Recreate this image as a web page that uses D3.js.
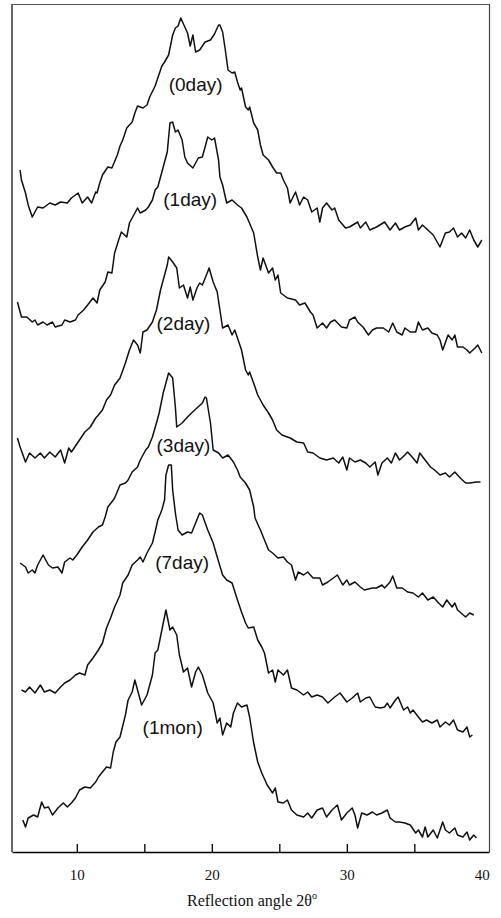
<!DOCTYPE html>
<html>
<head>
<meta charset="utf-8">
<script src="https://cdn.jsdelivr.net/npm/d3@7"></script>
<style>
  body { margin: 0; background: white; }
</style>
</head>
<body>
<script>
let width = 501;
let height = 918;

// sample names, stacking offsets and where each name sits (2theta, height above its curve's offset)
let samples = ["(0day)", "(1day)", "(2day)", "(3day)", "(7day)", "(1mon)"];
let offsets = [600, 480, 350, 230, 110, 0];
let labelAngle = [18.8, 18.4, 17.9, 17.9, 17.8, 17.1];
let labelLevel = [168, 173, 179, 177, 180, 125];

let minorTicks = [10, 15, 20, 25, 30, 35];
let tickLabels = [10, 20, 30, 40];

// patterns: [2theta, intensity (a.u.)]
let day0 = [[5.8,82],[5.9,72],[6.2,59],[6.4,47],[6.7,35],[7.1,45],[7.5,44],[8.0,49],[8.4,47],[8.8,50],[9.3,49],[9.6,54],[10.1,59],[10.4,49],[10.8,55],[11.1,49],[11.4,60],[11.5,59],[11.7,69],[11.9,77],[12.3,85],[12.6,84],[13.0,97],[13.2,106],[13.4,112],[13.7,124],[14.1,130],[14.3,139],[14.5,146],[14.9,144],[15.2,147],[15.4,155],[15.8,166],[16.0,174],[16.3,186],[16.5,190],[16.8,197],[17.1,217],[17.3,224],[17.5,226],[17.7,234],[17.9,228],[18.1,222],[18.2,219],[18.4,206],[18.6,217],[18.8,200],[19.1,202],[19.5,210],[19.9,212],[20.2,218],[20.5,227],[20.6,227],[20.8,220],[21.0,202],[21.2,182],[21.5,179],[21.7,180],[21.9,170],[22.1,162],[22.2,164],[22.5,145],[22.7,142],[22.8,145],[23.1,129],[23.4,122],[23.6,107],[23.8,97],[24.2,92],[24.5,85],[24.8,79],[25.1,79],[25.3,72],[25.6,64],[25.8,49],[26.2,60],[26.5,47],[26.8,55],[27.1,52],[27.4,40],[27.8,44],[28.0,30],[28.2,44],[28.5,49],[28.9,42],[29.1,44],[29.4,32],[29.9,24],[30.2,25],[30.8,30],[31.0,24],[31.4,30],[31.7,22],[32.2,25],[32.8,30],[33.2,22],[33.6,29],[33.9,22],[34.3,25],[34.7,27],[35.1,34],[35.3,22],[35.6,27],[36.0,22],[36.4,17],[36.9,5],[37.3,19],[37.6,20],[37.9,24],[38.2,15],[38.5,19],[38.8,14],[39.1,22],[39.4,12],[39.7,5],[40.0,12]];

let day1 = [[5.6,70],[5.9,55],[6.3,55],[6.7,50],[6.9,52],[7.1,47],[7.5,50],[7.8,47],[8.2,50],[8.4,45],[8.9,47],[9.1,52],[9.5,50],[9.9,52],[10.1,57],[10.5,62],[10.8,67],[11.2,74],[11.5,69],[11.7,82],[12.1,90],[12.3,100],[12.6,99],[12.8,119],[13.1,132],[13.3,140],[13.7,135],[13.9,149],[14.3,159],[14.5,164],[14.7,159],[15.1,162],[15.3,165],[15.6,172],[15.8,182],[16.0,185],[16.4,205],[16.7,220],[16.9,249],[17.1,250],[17.3,240],[17.5,242],[17.8,232],[18.0,215],[18.2,209],[18.6,204],[19.0,214],[19.3,215],[19.5,225],[19.7,235],[20.0,232],[20.2,234],[20.5,212],[20.6,195],[20.8,187],[21.1,169],[21.5,172],[21.9,167],[22.2,164],[22.6,155],[23.1,139],[23.4,115],[23.6,102],[23.8,114],[24.2,99],[24.5,104],[24.7,92],[24.9,97],[25.1,79],[25.6,74],[26.2,72],[26.5,67],[26.9,69],[27.3,60],[27.5,57],[27.8,44],[28.2,49],[28.5,44],[28.8,50],[29.1,52],[29.6,45],[30.0,44],[30.2,52],[30.6,55],[30.8,50],[31.2,45],[31.6,37],[31.9,42],[32.2,44],[32.7,44],[33.1,40],[33.4,49],[33.7,40],[34.1,37],[34.3,44],[34.7,40],[35.1,40],[35.3,50],[35.6,42],[36.0,44],[36.3,39],[36.7,37],[36.9,32],[37.1,22],[37.5,37],[37.8,32],[38.0,37],[38.2,25],[38.6,25],[38.9,22],[39.1,19],[39.5,24],[39.7,27],[40.0,19]];

let day2 = [[5.6,64],[5.8,55],[6.2,40],[6.5,49],[6.9,44],[7.3,49],[7.6,44],[8.0,50],[8.4,45],[8.8,52],[9.1,39],[9.4,54],[9.6,50],[10.1,60],[10.6,70],[11.0,75],[11.4,84],[11.6,87],[11.9,92],[12.2,102],[12.5,107],[12.8,117],[13.2,124],[13.6,139],[13.9,152],[14.2,162],[14.5,157],[14.7,149],[14.9,170],[15.2,172],[15.6,180],[15.9,192],[16.2,212],[16.4,222],[16.7,237],[16.8,245],[17.1,240],[17.4,234],[17.6,214],[17.9,217],[18.2,204],[18.4,215],[18.6,202],[18.9,214],[19.1,219],[19.3,217],[19.6,227],[19.8,234],[20.1,220],[20.4,210],[20.6,192],[20.8,174],[21.2,177],[21.5,167],[21.7,172],[21.9,164],[22.2,152],[22.5,132],[22.7,127],[22.8,130],[23.2,115],[23.4,107],[23.8,97],[24.2,89],[24.5,82],[24.8,72],[25.2,67],[25.8,64],[26.3,60],[26.8,59],[27.1,50],[27.5,49],[28.0,44],[28.5,42],[29.0,44],[29.4,39],[29.7,45],[30.0,32],[30.2,44],[30.6,40],[31.0,42],[31.4,39],[31.7,35],[32.1,40],[32.3,27],[32.6,39],[33.0,44],[33.3,39],[33.6,49],[33.9,42],[34.3,47],[34.5,50],[34.9,44],[35.2,39],[35.4,49],[35.8,42],[36.2,35],[36.5,32],[36.9,27],[37.3,29],[37.6,25],[38.0,30],[38.4,24],[38.8,19],[39.1,19],[39.6,20],[39.9,20]];

let day3 = [[5.8,59],[6.2,55],[6.4,49],[6.7,52],[6.9,49],[7.1,57],[7.5,67],[7.9,57],[8.2,54],[8.6,55],[8.9,49],[9.1,60],[9.5,64],[9.7,62],[10.0,67],[10.4,75],[10.8,82],[11.2,90],[11.6,95],[11.9,97],[12.1,105],[12.3,115],[12.7,122],[12.8,124],[13.2,137],[13.6,139],[13.8,142],[14.1,150],[14.5,155],[14.7,162],[15.1,172],[15.3,175],[15.6,185],[15.9,199],[16.1,209],[16.4,229],[16.7,244],[16.8,249],[17.1,244],[17.3,215],[17.4,195],[17.8,199],[18.2,205],[18.5,209],[18.9,214],[19.3,219],[19.5,225],[19.6,224],[19.9,199],[20.1,172],[20.5,169],[20.8,164],[21.2,167],[21.6,160],[21.9,152],[22.1,145],[22.5,139],[22.8,132],[23.1,115],[23.2,104],[23.6,92],[23.9,82],[24.2,72],[24.5,69],[24.9,64],[25.3,65],[25.6,60],[25.9,57],[26.2,42],[26.4,50],[26.8,47],[27.1,50],[27.5,44],[28.0,44],[28.2,37],[28.6,40],[29.0,44],[29.3,47],[29.7,37],[30.0,42],[30.2,37],[30.6,40],[31.0,35],[31.3,32],[31.9,34],[32.2,34],[32.6,37],[32.8,34],[33.2,40],[33.4,46],[33.7,34],[34.1,34],[34.5,30],[34.9,29],[35.3,25],[35.6,29],[36.0,22],[36.4,25],[36.8,19],[37.1,15],[37.4,22],[37.8,15],[38.0,19],[38.2,12],[38.8,5],[39.1,9],[39.4,7]];

let day7 = [[5.9,52],[6.2,50],[6.5,55],[6.9,49],[7.3,57],[7.6,50],[8.0,52],[8.4,49],[8.8,55],[9.1,59],[9.5,62],[9.9,67],[10.2,69],[10.6,67],[10.8,77],[11.2,84],[11.6,92],[11.9,99],[12.2,114],[12.5,124],[12.8,135],[13.2,147],[13.4,159],[13.8,167],[14.1,177],[14.5,182],[14.7,185],[14.9,180],[15.2,189],[15.6,199],[15.8,210],[16.0,222],[16.3,232],[16.5,242],[16.6,267],[16.8,277],[17.0,277],[17.1,252],[17.3,229],[17.5,212],[17.8,207],[18.2,210],[18.5,209],[18.8,219],[19.1,229],[19.3,227],[19.7,212],[20.1,199],[20.4,185],[20.8,167],[21.1,162],[21.5,159],[21.9,142],[22.2,130],[22.5,119],[22.7,114],[23.1,115],[23.4,102],[23.7,95],[23.9,89],[24.2,69],[24.5,72],[24.7,60],[24.9,72],[25.3,67],[25.6,72],[25.9,54],[26.3,52],[26.8,47],[27.1,50],[27.4,45],[27.8,47],[28.2,45],[28.6,39],[29.1,45],[29.5,49],[30.0,40],[30.4,44],[30.8,49],[31.0,40],[31.4,44],[31.7,45],[32.1,35],[32.5,34],[32.8,35],[33.0,39],[33.2,34],[33.6,42],[33.8,45],[34.2,32],[34.5,35],[34.7,29],[34.9,32],[35.3,25],[35.6,20],[35.9,22],[36.3,19],[36.7,22],[36.9,15],[37.3,20],[37.6,17],[37.9,22],[38.2,12],[38.6,10],[38.9,15],[39.1,5],[39.3,7]];

let mon1 = [[6.0,32],[6.2,25],[6.4,34],[6.8,37],[7.1,35],[7.4,50],[7.6,44],[7.9,45],[8.2,37],[8.6,44],[9.0,49],[9.3,45],[9.6,49],[9.9,54],[10.2,62],[10.6,65],[11.0,64],[11.4,70],[11.6,75],[11.9,80],[12.2,85],[12.5,84],[12.7,100],[12.9,110],[13.2,115],[13.6,137],[13.8,152],[14.1,160],[14.3,172],[14.5,162],[14.8,147],[15.2,157],[15.6,177],[15.8,199],[16.0,202],[16.3,222],[16.6,242],[16.9,222],[17.1,225],[17.4,217],[17.6,197],[17.9,180],[18.2,184],[18.5,165],[18.8,180],[19.0,185],[19.3,177],[19.7,159],[20.1,149],[20.4,129],[20.6,134],[20.8,117],[21.1,129],[21.4,125],[21.6,139],[21.9,149],[22.2,145],[22.6,147],[22.8,135],[23.1,109],[23.4,90],[23.7,79],[24.1,67],[24.5,59],[24.7,64],[24.9,50],[25.3,49],[25.6,52],[25.9,42],[26.3,37],[26.8,35],[27.1,39],[27.4,34],[27.8,42],[28.2,44],[28.5,35],[28.9,42],[29.3,47],[29.6,32],[30.0,39],[30.4,44],[30.6,37],[30.8,24],[31.1,39],[31.5,37],[31.9,40],[32.2,37],[32.6,39],[33.0,42],[33.2,34],[33.6,30],[33.9,30],[34.3,29],[34.7,27],[35.1,19],[35.3,22],[35.6,15],[35.8,25],[36.0,15],[36.4,22],[36.7,14],[37.1,30],[37.3,22],[37.6,19],[38.0,24],[38.2,17],[38.6,15],[38.9,20],[39.1,12],[39.4,17],[39.6,14]];

let patterns = [day0, day1, day2, day3, day7, mon1];

//scales

let xScale = d3.scaleLinear()
    .domain([5.2, 40.53])
    .range([12, 489]);

let yScale = d3.scaleLinear()
    .domain([0, 848])
    .range([852, 4]);

//svg canvas

let svg = d3.select("body")
    .append("svg")
    .attr("width", width)
    .attr("height", height)
    .style("background", "white");

//frame

svg.append("line")
    .attr("x1", 12).attr("x2", 12)
    .attr("y1", 4).attr("y2", 852)
    .attr("stroke", "#666")
    .attr("stroke-width", 2);

svg.append("line")
    .attr("x1", 12).attr("x2", 489)
    .attr("y1", 4.5).attr("y2", 4.5)
    .attr("stroke", "#555")
    .attr("stroke-width", 1.2);

svg.append("line")
    .attr("x1", 489.5).attr("x2", 489.5)
    .attr("y1", 4).attr("y2", 852)
    .attr("stroke", "#444")
    .attr("stroke-width", 1.2);

//x axis, ticks pointing into the plot

let xAxis = d3.axisBottom(xScale)
    .tickValues(minorTicks)
    .tickSize(-8)
    .tickSizeOuter(0)
    .tickFormat("");

svg.append("g")
    .attr("transform", "translate(0,852)")
    .call(xAxis)
    .call(g => g.select(".domain").attr("stroke-width", 1.5))
    .call(g => g.selectAll(".tick line").attr("stroke-width", 1.3));

let labelAxis = d3.axisBottom(xScale)
    .tickValues(tickLabels)
    .tickSize(0)
    .tickPadding(17);

svg.append("g")
    .attr("transform", "translate(0,852)")
    .call(labelAxis)
    .call(g => g.select(".domain").remove())
    .call(g => g.selectAll("text")
        .attr("font-family", "'Liberation Serif', 'Times New Roman', serif")
        .attr("font-size", "15px")
        .attr("fill", "#111"));

let title = svg.append("text")
    .attr("x", 252)
    .attr("y", 906)
    .attr("text-anchor", "middle")
    .attr("font-family", "'Liberation Serif', 'Times New Roman', serif")
    .attr("font-size", "16px")
    .attr("fill", "#111")
    .text("Reflection angle 2θ");

title.append("tspan")
    .attr("dy", -7)
    .attr("font-size", "10px")
    .text("o");

//patterns

let line = d3.line()
    .x(d => xScale(d[0]))
    .y(d => yScale(d[1]));

svg.selectAll("path.pattern")
    .data(patterns)
    .enter()
    .append("path")
    .attr("class", "pattern")
    .attr("d", (d, i) => line(d.map(p => [p[0], p[1] + offsets[i]])))
    .attr("fill", "none")
    .attr("stroke", "#111")
    .attr("stroke-width", 1.5)
    .attr("stroke-linejoin", "round");

//sample labels

svg.selectAll("text.sample")
    .data(samples)
    .enter()
    .append("text")
    .attr("class", "sample")
    .text(d => d)
    .attr("x", (d, i) => xScale(labelAngle[i]))
    .attr("y", (d, i) => yScale(labelLevel[i] + offsets[i]))
    .attr("dy", "0.36em")
    .attr("text-anchor", "middle")
    .attr("font-family", "'Liberation Sans', Arial, sans-serif")
    .attr("font-size", "19px")
    .attr("fill", "#111");
</script>
</body>
</html>
